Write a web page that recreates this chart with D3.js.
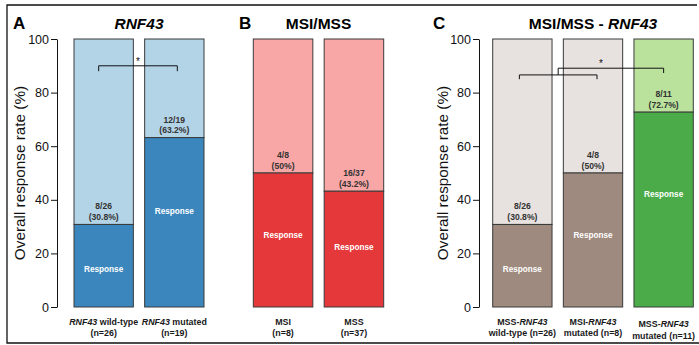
<!DOCTYPE html>
<html><head><meta charset="utf-8">
<script src="https://cdn.jsdelivr.net/npm/d3@7"></script>
<style>
html,body{margin:0;padding:0;background:#fff;}
svg{display:block;font-family:"Liberation Sans",Arial,Helvetica,sans-serif;}
</style></head>
<body>
<svg id="chart" width="699" height="345"></svg>
<script>
// ---------- DATA ----------
const yTicks = [0, 20, 40, 60, 80, 100];

const catsA = ["RNF43 wild-type", "RNF43 mutated"];
const respA = [30.8, 63.2];
const countA = ["8/26", "12/19"];
const pctA = ["(30.8%)", "(63.2%)"];
const xLab1A = ["<i>RNF43</i> wild-type", "<i>RNF43</i> mutated"];
const xLab2A = ["(n=26)", "(n=19)"];

const catsB = ["MSI", "MSS"];
const respB = [50, 43.2];
const countB = ["4/8", "16/37"];
const pctB = ["(50%)", "(43.2%)"];
const xLab1B = ["MSI", "MSS"];
const xLab2B = ["(n=8)", "(n=37)"];

const catsC = ["MSS-RNF43 wild-type", "MSI-RNF43 mutated", "MSS-RNF43 mutated"];
const respC = [30.8, 50, 72.7];
const countC = ["8/26", "4/8", "8/11"];
const pctC = ["(30.8%)", "(50%)", "(72.7%)"];
const xLab1C = ["MSS-<i>RNF43</i>", "MSI-<i>RNF43</i>", "MSS-<i>RNF43</i>"];
const xLab2C = ["wild-type (n=26)", "mutated (n=8)", "mutated (n=11)"];

// ---------- DRAW ----------
const svg = d3.select("#chart");
const y = d3.scaleLinear().domain([0, 100]).range([307, 39]);

function richText(sel, str) {
  const parts = str.split(/(<i>.*?<\/i>)/).filter(s => s.length);
  parts.forEach(p => {
    const it = p.startsWith("<i>");
    sel.append("tspan").attr("font-style", it ? "italic" : "normal")
      .text(it ? p.replace(/<\/?i>/g, "") : p);
  });
}

function panel(o) {
  const g = svg.append("g");
  const x = d3.scaleBand().domain(o.cats).range(o.range).paddingInner(0.16).paddingOuter(0);
  g.append("text").attr("x", o.letterX).attr("y", 29).attr("font-size", 17)
    .attr("font-weight", "bold").attr("fill", "#000").text(o.letter);
  const t = g.append("text").attr("x", (o.range[0] + o.range[1]) / 2).attr("y", 29)
    .attr("text-anchor", "middle").attr("font-size", 15.5).attr("font-weight", "bold").attr("fill", "#000");
  richText(t, o.title);
  if (o.axisX !== undefined) {
    const ax = g.append("g").attr("transform", `translate(${o.axisX},0)`)
      .call(d3.axisLeft(y).tickValues(yTicks).tickSize(6).tickPadding(2).tickSizeOuter(0));
    ax.selectAll("text").attr("font-size", 12.5).attr("fill", "#111")
      .attr("font-family", '"Liberation Sans",Arial,sans-serif');
    ax.selectAll("line,path").attr("stroke", "#111").attr("stroke-width", 1);
    g.append("text").attr("transform", `translate(${o.labX},${(y(0) + y(100)) / 2}) rotate(-90)`)
      .attr("text-anchor", "middle").attr("font-size", 15.3).attr("fill", "#111")
      .text("Overall response rate (%)");
  }
  o.cats.forEach((c, i) => {
    const v = o.resp[i], bx = x(c), bw = x.bandwidth(), cx = bx + bw / 2;
    const last = i === o.cats.length - 1;
    g.append("rect").attr("x", bx).attr("y", y(100)).attr("width", bw).attr("height", y(v) - y(100))
      .attr("fill", last && o.lightLast ? o.lightLast : o.light).attr("stroke", "#3a3a3a").attr("stroke-width", 1);
    g.append("rect").attr("x", bx).attr("y", y(v)).attr("width", bw).attr("height", y(0) - y(v))
      .attr("fill", last && o.darkLast ? o.darkLast : o.dark).attr("stroke", "#3a3a3a").attr("stroke-width", 1);
    g.append("text").attr("x", cx).attr("y", y(v) - 15).attr("text-anchor", "middle")
      .attr("font-size", 8.6).attr("font-weight", "bold").attr("fill", "#333").text(o.count[i]);
    g.append("text").attr("x", cx).attr("y", y(v) - 4.5).attr("text-anchor", "middle")
      .attr("font-size", 8.6).attr("font-weight", "bold").attr("fill", "#333").text(o.pct[i]);
    g.append("text").attr("x", cx).attr("y", y(0.668 * v - 6.4) + 3).attr("text-anchor", "middle")
      .attr("font-size", 8.2).attr("font-weight", "bold").attr("fill", "#fff").text("Response");
    const dy = o.lowLast && last ? 2.5 : 0;
    const l1 = g.append("text").attr("x", cx).attr("y", 324.5 + dy).attr("text-anchor", "middle")
      .attr("font-size", 8.9).attr("font-weight", "bold").attr("fill", "#1a1a1a");
    richText(l1, o.lab1[i]);
    g.append("text").attr("x", cx).attr("y", 336 + dy).attr("text-anchor", "middle")
      .attr("font-size", 8.9).attr("font-weight", "bold").attr("fill", "#1a1a1a").text(o.lab2[i]);
  });
  return {g, x};
}

function star(g, xx, yy) {
  g.append("text").attr("x", xx).attr("y", yy).attr("text-anchor", "middle")
    .attr("font-size", 10).attr("fill", "#111").text("*");
}

// Panel A
const A = panel({letter: "A", letterX: 13, title: "<i>RNF43</i>", cats: catsA, range: [74, 204],
  resp: respA, count: countA, pct: pctA, lab1: xLab1A, lab2: xLab2A,
  light: "#b3d4e7", dark: "#3a86bd", axisX: 57, labX: 25});
{
  const c0 = A.x(catsA[0]) + A.x.bandwidth() / 2 - 5, c1 = A.x(catsA[1]) + A.x.bandwidth() / 2 + 3;
  const yb = y(90), yt = y(88);
  A.g.append("path").attr("d", `M${c0},${yt}V${yb}H${c1}V${yt}`).attr("fill", "none")
    .attr("stroke", "#111").attr("stroke-width", 1);
  star(A.g, (c0 + c1) / 2, yb - 0.5);
}

// Panel B
panel({letter: "B", letterX: 239, title: "MSI/MSS", cats: catsB, range: [253.3, 383.7],
  resp: respB, count: countB, pct: pctB, lab1: xLab1B, lab2: xLab2B,
  light: "#f9a7a6", dark: "#e5383a"});

// Panel C
const C = panel({letter: "C", letterX: 433, title: "MSI/MSS - <i>RNF43</i>", cats: catsC, range: [492.7, 693.3],
  resp: respC, count: countC, pct: pctC, lab1: xLab1C, lab2: xLab2C,
  light: "#e7e2df", dark: "#9e8a7e", lightLast: "#bae29c", darkLast: "#4aab48",
  axisX: 479, labX: 448, lowLast: true});
{
  const bw = C.x.bandwidth();
  const c0 = C.x(catsC[0]) + bw / 2 - 3, c1 = C.x(catsC[1]) + bw / 2 + 4, c2 = C.x(catsC[2]) + bw / 2;
  const y1 = y(86.6), y1t = y(85), y2 = y(89.1), y2t = y(87.3);
  const m = (c0 + c1) / 2;
  C.g.append("path").attr("d", `M${c0},${y1t}V${y1}H${c1}V${y1t}`).attr("fill", "none")
    .attr("stroke", "#111").attr("stroke-width", 1);
  C.g.append("path").attr("d", `M${m},${y1}V${y2}H${c2}V${y2t}`).attr("fill", "none")
    .attr("stroke", "#111").attr("stroke-width", 1);
  star(C.g, c1 + 4, y2 - 1);
}

// frame
svg.append("path").attr("d", "M697,5H7V343H699").attr("fill", "none")
  .attr("stroke", "#111").attr("stroke-width", 1.3);
</script>
</body></html>
